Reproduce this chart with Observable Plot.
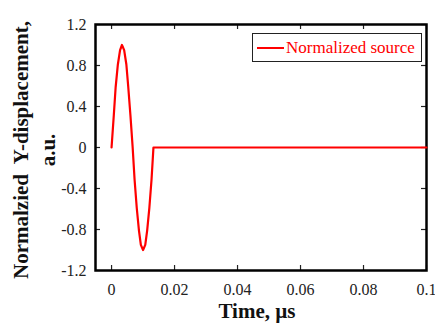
<!DOCTYPE html>
<html>
<head>
<meta charset="utf-8">
<script src="https://cdn.jsdelivr.net/npm/d3@7"></script>
<script src="https://cdn.jsdelivr.net/npm/@observablehq/plot@0.6"></script>
<style>
  html, body { margin: 0; padding: 0; background: #fff; }
  #chart { position: relative; width: 435px; height: 323px; }
  #chart svg text { font-family: "Liberation Serif", "Times New Roman", "DejaVu Serif", serif !important; }
  #legend {
    position: absolute; left: 252px; top: 33px; width: 170px; height: 29px;
    border: 1px solid #222; background: #fff; box-sizing: border-box;
    font-family: "Liberation Serif", "Times New Roman", "DejaVu Serif", serif; font-size: 17px; color: #ff0000;
    display: flex; align-items: center; white-space: nowrap;
  }
  #legend .sw { display: inline-block; width: 27px; height: 2px; background: #ff0000; margin-left: 4px; margin-right: 2px; }
</style>
</head>
<body>
<div id="chart"><div id="legend"><span class="sw"></span><span>Normalized source</span></div></div>
<script>
const seriesName = "Normalized source";
const time = [0, 0.0007, 0.0013, 0.002, 0.0027, 0.0033, 0.004, 0.0047, 0.0053, 0.006, 0.0067, 0.0073, 0.008, 0.0087, 0.0093, 0.01, 0.0107, 0.0113, 0.012, 0.0127, 0.0133, 0.1];
const displacement = [0, 0.31, 0.59, 0.81, 0.95, 1.0, 0.95, 0.81, 0.59, 0.31, 0, -0.31, -0.59, -0.81, -0.95, -1.0, -0.95, -0.81, -0.59, -0.31, 0, 0];
const xTicks = [0, 0.02, 0.04, 0.06, 0.08, 0.1];
const yTicks = [-1.2, -0.8, -0.4, 0, 0.4, 0.8, 1.2];
const xLabel = "Time, µs";
const yLabel1 = "Normalzied  Y-displacement,";
const yLabel2 = "a.u.";

const W = 435, H = 323, mL = 95, mR = 9, mT = 24, mB = 53;
const plotW = W - mL - mR, plotH = H - mT - mB, tickLen = 5;

const data = time.map((t, i) => ({t, v: displacement[i]}));
const fmt = d => d === 0 ? "0" : String(d);

const plot = Plot.plot({
  width: W, height: H,
  marginLeft: mL, marginRight: mR, marginTop: mT, marginBottom: mB,
  style: {fontFamily: "'Liberation Serif', 'Times New Roman', serif", fontSize: "16px", color: "#222", background: "white"},
  x: {domain: [-0.0051, 0.1], ticks: xTicks},
  y: {domain: [-1.2, 1.2], ticks: yTicks},
  marks: [
    Plot.axisX(xTicks, {anchor: "bottom", tickSize: 0, tickPadding: 13, tickFormat: fmt, label: null}),
    Plot.axisY(yTicks, {anchor: "left", tickSize: 0, tickPadding: 9, tickFormat: fmt, label: null}),
    Plot.tickX(xTicks, {x: d => d, insetTop: plotH - tickLen, stroke: "#222", strokeWidth: 1.2}),
    Plot.tickX(xTicks, {x: d => d, insetBottom: plotH - tickLen, stroke: "#222", strokeWidth: 1.2}),
    Plot.tickY(yTicks, {y: d => d, insetRight: plotW - tickLen, stroke: "#222", strokeWidth: 1.2}),
    Plot.tickY(yTicks, {y: d => d, insetLeft: plotW - tickLen, stroke: "#222", strokeWidth: 1.2}),
    Plot.frame({stroke: "black", strokeWidth: 2.5}),
    Plot.line(data, {x: "t", y: "v", stroke: "#ff0000", strokeWidth: 2.2})
  ]
});

const svg = d3.select(plot);
svg.append("text").attr("x", 257).attr("y", 318)
  .attr("text-anchor", "middle")
  .attr("font-weight", "bold").attr("font-size", 21).attr("fill", "#111").text(xLabel);
const yt = svg.append("text").attr("transform", "translate(0,150) rotate(-90)")
  .attr("text-anchor", "middle")
  .attr("font-weight", "bold").attr("font-size", 21).attr("fill", "#111");
yt.append("tspan").attr("x", 0).attr("y", 28).text(yLabel1);
yt.append("tspan").attr("x", 0).attr("y", 55).text(yLabel2);

document.getElementById("chart").prepend(plot);
</script>
</body>
</html>
